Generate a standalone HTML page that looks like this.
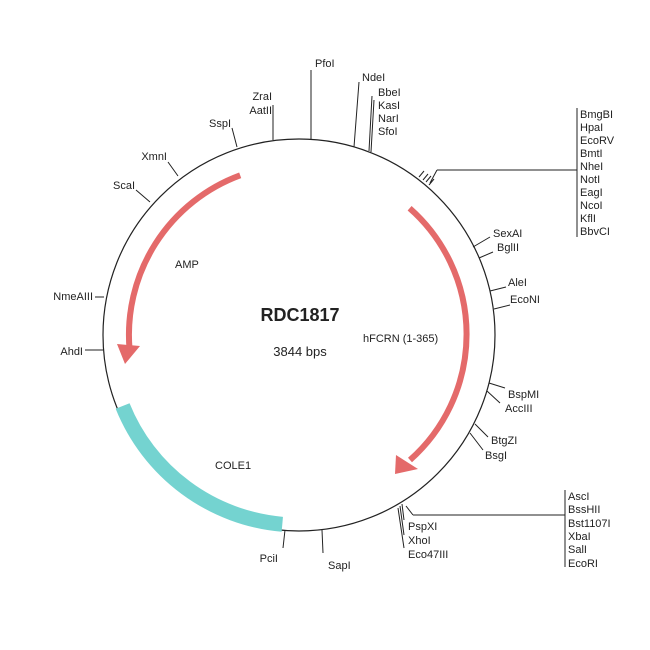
<!DOCTYPE html>
<html><head><style>body{margin:0;background:#fff}svg{display:block}</style></head><body>
<svg width="650" height="650" viewBox="0 0 650 650" font-family="Liberation Sans, sans-serif" font-size="11" fill="#222">
<circle cx="299" cy="335" r="196" fill="none" stroke="#222" stroke-width="1.2"/>
<path d="M 282.3 524.3 A 190 190 0 0 1 122.6 406" fill="none" stroke="#74d3d0" stroke-width="15"/>
<path d="M 240.2 175.3 A 170 170 0 0 0 129.6 349.8" fill="none" stroke="#e46a6a" stroke-width="6"/>
<polygon points="117,344 140,346 125,364" fill="#e46a6a"/>
<path d="M 409.6 208.2 A 168 168 0 0 1 410 460" fill="none" stroke="#e46a6a" stroke-width="6"/>
<polygon points="396,455 418,469 395,474" fill="#e46a6a"/>
<g stroke="#222" stroke-width="1" fill="none">
<path d="M311 70V139M359 82L354 147M372 96L369 151M374 100L371 152M273 105V140M232 128L237 147M168 162L178 176M136 190L150 202M95 297H104M85 350H103M283 548L285 530M323 553L322 530"/>
<path d="M437 170H577M577 108V237M437 170L430 183M419 177L424 171M423 180L428 174M426 182L431 176M429 185L434 179"/>
<path d="M473 247L490 237M479 258L493 252M490 291L506 287M494 309L510 305M489 383L505 388M487 391L500 403M475 424L488 437M470 433L483 450"/>
<path d="M413 515H565M565 490V567M413 515L406 506M404 520L402 504M404 535L400 506M404 548L398 508"/>
</g>
<g font-size="11">
<text x="315" y="67">PfoI</text>
<text x="362" y="81">NdeI</text>
<text x="378" y="96">BbeI</text><text x="378" y="109">KasI</text><text x="378" y="122">NarI</text><text x="378" y="135">SfoI</text>
<text x="272" y="100" text-anchor="end">ZraI</text><text x="272" y="114" text-anchor="end">AatII</text>
<text x="231" y="127" text-anchor="end">SspI</text>
<text x="167" y="160" text-anchor="end">XmnI</text>
<text x="135" y="189" text-anchor="end">ScaI</text>
<text x="93" y="300" text-anchor="end">NmeAIII</text>
<text x="83" y="355" text-anchor="end">AhdI</text>
<text x="278" y="562" text-anchor="end">PciI</text>
<text x="328" y="569">SapI</text>
<text x="408" y="530">PspXI</text><text x="408" y="544">XhoI</text><text x="408" y="558">Eco47III</text>
<text x="568" y="500">AscI</text><text x="568" y="513">BssHII</text><text x="568" y="527">Bst1107I</text><text x="568" y="540">XbaI</text><text x="568" y="553">SalI</text><text x="568" y="567">EcoRI</text>
<text x="491" y="444">BtgZI</text><text x="485" y="459">BsgI</text>
<text x="508" y="398">BspMI</text><text x="505" y="412">AccIII</text>
<text x="508" y="286">AleI</text><text x="510" y="303">EcoNI</text>
<text x="493" y="237">SexAI</text><text x="497" y="251">BglII</text>
<text x="580" y="118">BmgBI</text><text x="580" y="131">HpaI</text><text x="580" y="144">EcoRV</text><text x="580" y="157">BmtI</text><text x="580" y="170">NheI</text><text x="580" y="183">NotI</text><text x="580" y="196">EagI</text><text x="580" y="209">NcoI</text><text x="580" y="222">KflI</text><text x="580" y="235">BbvCI</text>
<text x="175" y="268">AMP</text>
<text x="363" y="342">hFCRN (1-365)</text>
<text x="215" y="469">COLE1</text>
</g>
<text x="300" y="321" text-anchor="middle" font-size="18" font-weight="bold">RDC1817</text>
<text x="300" y="356" text-anchor="middle" font-size="13">3844 bps</text>
</svg>
</body></html>
